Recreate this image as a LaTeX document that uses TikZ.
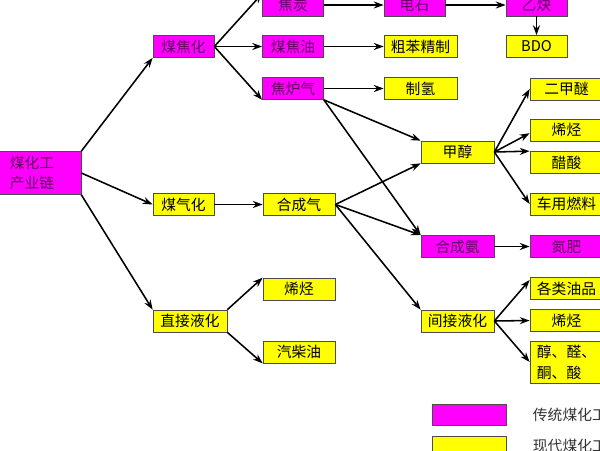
\documentclass[tikz,border=0pt]{standalone}
\usepackage{fontspec}
\setmainfont{Noto Sans CJK SC}
\usetikzlibrary{arrows.meta}
\definecolor{tradmag}{RGB}{255, 0, 255}
\definecolor{modyel}{RGB}{255, 255, 0}
\definecolor{tradtext}{RGB}{96, 0, 96}

\begin{document}
\begin{tikzpicture}[
  x=0.025cm, y=-0.025cm,
  nd/.style={draw=black!70, line width=0.5pt, inner sep=0pt, minimum height=22*0.025cm, font=\fontsize{10.5pt}{14pt}\selectfont},
  wd/.style={minimum width=#1*0.025cm},
  trad/.style={nd, fill=tradmag, text=tradtext},
  modern/.style={nd, fill=modyel, text=black},
  arr/.style={-{Stealth[length=7pt, width=5pt]}, line width=1.1pt, black},
]
  \useasboundingbox (0, 0) rectangle (600, 450);
  \clip (0, 0) rectangle (600, 450);
  \fill[white] (0, 0) rectangle (600, 450);
  % left column
  \node[trad, wd=98, minimum height=43*0.025cm, align=left] (chain) at (32, 173) {煤化工\\产业链};
  \node[trad, wd=61] (jiaohua) at (183.5, 46.5) {煤焦化};
  \node[modern, wd=61] (meiqihua) at (183.5, 204.5) {煤气化};
  \node[modern, wd=74] (zhijie) at (190, 321) {直接液化};
  % second column
  \node[trad, wd=61] (jiaotan) at (293, 5) {焦炭};
  \node[trad, wd=61] (jiaoyou) at (293, 46.5) {煤焦油};
  \node[trad, wd=61] (jiaolu) at (293, 88.5) {焦炉气};
  \node[modern, wd=72] (hechengqi) at (299, 204.5) {合成气};
  \node[modern, wd=72] (xiting3) at (299, 289) {烯烃};
  \node[modern, wd=72] (qichaiyou) at (299, 352) {汽柴油};
  % third column
  \node[trad, wd=61] (dianshi) at (414.5, 5) {电石};
  \node[modern, wd=73] (cuben) at (420.5, 46.5) {粗苯精制};
  \node[modern, wd=73] (zhiqing) at (420.5, 88.5) {制氢};
  \node[modern, wd=73] (jiachun) at (457.5, 152) {甲醇};
  \node[trad, wd=73] (hechengan) at (457.5, 246.5) {合成氨};
  \node[modern, wd=73] (jianjie) at (457.5, 321) {间接液化};
  % right column
  \node[trad, wd=61] (yique) at (536.5, 5) {乙炔};
  \node[modern, wd=61] (bdo) at (536.5, 46.5) {BDO};
  \node[modern, wd=73] (erjiami) at (566.5, 89) {二甲醚};
  \node[modern, wd=73] (xiting1) at (566.5, 130) {烯烃};
  \node[modern, wd=73] (cusuan) at (566.5, 162.5) {醋酸};
  \node[modern, wd=73] (ranliao) at (566.5, 204) {车用燃料};
  \node[trad, wd=73] (danfei) at (566.5, 246.5) {氮肥};
  \node[modern, wd=73] (youpin) at (566.5, 288.5) {各类油品};
  \node[modern, wd=73] (xiting2) at (566.5, 320.5) {烯烃};
  \node[modern, wd=73, minimum height=42*0.025cm, align=left, font=\fontsize{10.5pt}{15pt}\selectfont] (chun) at (566.5, 362) {醇、醛、\\酮、酸};
  % legend
  \node[trad, wd=74, minimum height=21*0.025cm] (legtrad) at (469, 414.5) {};
  \node[modern, wd=74, minimum height=21*0.025cm] (legmod) at (469, 446.5) {};
  \node[anchor=west, text=black!80, font=\fontsize{10.5pt}{14pt}\selectfont] (legtradtxt) at (528, 415) {传统煤化工};
  \node[anchor=west, text=black!80, font=\fontsize{10.5pt}{14pt}\selectfont] (legmodtxt) at (528, 446) {现代煤化工};
  % arrows
  \draw[arr] (chain.north east) -- (jiaohua.south west);
  \draw[arr] (chain.east) -- (meiqihua.west);
  \draw[arr] (chain.south east) -- (zhijie.north west);
  \draw[arr] (jiaohua.east) -- (jiaotan.north west);
  \draw[arr] (jiaohua.east) -- (jiaoyou.west);
  \draw[arr] (jiaohua.east) -- (jiaolu.south west);
  \draw[arr] (jiaotan.east) -- (dianshi.west);
  \draw[arr] (dianshi.east) -- (yique.west);
  \draw[arr] (yique.south) -- (bdo.north);
  \draw[arr] (jiaoyou.east) -- (cuben.west);
  \draw[arr] (jiaolu.east) -- (zhiqing.west);
  \draw[arr] (jiaolu.south east) -- (jiachun.north west);
  \draw[arr] (jiaolu.south east) -- (hechengan.north west);
  \draw[arr] (meiqihua.east) -- (hechengqi.west);
  \draw[arr] (hechengqi.east) -- (jiachun.south west);
  \draw[arr] (hechengqi.east) -- (hechengan.north west);
  \draw[arr] (hechengqi.east) -- (jianjie.north west);
  \draw[arr] (zhijie.north east) -- (xiting3.north west);
  \draw[arr] (zhijie.south east) -- (qichaiyou.south west);
  \draw[arr] (jiachun.east) -- (erjiami.west);
  \draw[arr] (jiachun.east) -- (xiting1.185);
  \draw[arr] (jiachun.east) -- (cusuan.north west);
  \draw[arr] (jiachun.east) -- (ranliao.west);
  \draw[arr] (hechengan.east) -- (danfei.west);
  \draw[arr] (jianjie.east) -- (youpin.167);
  \draw[arr] (jianjie.east) -- (xiting2.west);
  \draw[arr] (jianjie.east) -- (chun.west);
\end{tikzpicture}
\end{document}
